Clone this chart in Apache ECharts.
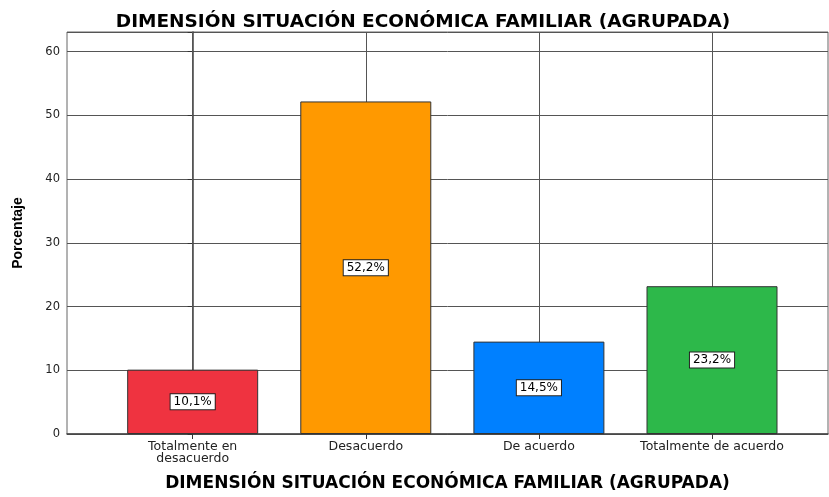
<!DOCTYPE html>
<html><head><meta charset="utf-8">
<script src="https://cdn.jsdelivr.net/npm/echarts@6/dist/echarts.min.js"></script>
<style>html,body{margin:0;padding:0;background:#fff}#c{width:829px;height:497px}</style>
</head><body><div id="c"></div>
<script>
const title = 'DIMENSIÓN SITUACIÓN ECONÓMICA FAMILIAR (AGRUPADA)';
const xTitle = 'DIMENSIÓN SITUACIÓN ECONÓMICA FAMILIAR (AGRUPADA)';
const yTitle = 'Porcentaje';
const categories = ['Totalmente en\ndesacuerdo', 'Desacuerdo', 'De acuerdo', 'Totalmente de acuerdo'];
const values = [10.1, 52.2, 14.5, 23.2];
const labels = ['10,1%', '52,2%', '14,5%', '23,2%'];
const colors = ['#EF3340', '#FF9900', '#0080FF', '#2DB84A'];
const yTicks = [0, 10, 20, 30, 40, 50, 60];
const idx = categories.map((c, i) => i);

const chart = echarts.init(document.getElementById('c'));
chart.setOption({
  animation: false,
  backgroundColor: '#fff',
  title: {
    text: title, left: 418, top: 8, textAlign: 'center',
    textStyle: {fontFamily: 'DejaVu Sans', fontWeight: 'bold', fontSize: 18.5, color: '#000'}
  },
  grid: {left: 67, top: 32, right: 1, bottom: 58, show: true, borderColor: '#666', borderWidth: 1},
  xAxis: {
    type: 'value', min: -0.726, max: 3.67,
    name: xTitle, nameLocation: 'middle', nameGap: 41,
    nameTextStyle: {fontFamily: 'DejaVu Sans', fontWeight: 'bold', fontSize: 17, color: '#000'},
    axisLine: {show: true, lineStyle: {color: '#444', width: 1.5}},
    axisTick: {show: true, customValues: idx, length: 5, lineStyle: {color: '#333'}},
    axisLabel: {customValues: idx, formatter: v => categories[Math.round(v)], fontFamily: 'DejaVu Sans', fontSize: 12.5, color: '#222', margin: 7, lineHeight: 12},
    splitLine: {show: false}
  },
  yAxis: {
    type: 'value', min: 0, max: 63.1, interval: 10,
    name: yTitle, nameLocation: 'middle', nameGap: 42,
    nameTextStyle: {fontFamily: 'Liberation Sans', fontWeight: 'bold', fontSize: 14, color: '#000'},
    axisLine: {show: true, lineStyle: {color: '#444', width: 1.5}},
    axisTick: {show: true, length: 5, lineStyle: {color: '#333'}},
    axisLabel: {formatter: v => yTicks.includes(v) ? String(v) : '', fontFamily: 'DejaVu Sans', fontSize: 11.5, color: '#222', margin: 7},
    splitLine: {show: true, lineStyle: {color: '#555', width: 1}}
  },
  series: [
    {
      type: 'scatter', data: [], z: 1, silent: true,
      markLine: {
        silent: true, symbol: 'none', label: {show: false}, animation: false, z: 1,
        lineStyle: {color: '#555', width: 1, type: 'solid'},
        data: idx.map(i => ({xAxis: i}))
      }
    },
    {
      type: 'bar', z: 3, barWidth: 131,
      data: values.map((v, i) => ({value: [i, v], itemStyle: {color: colors[i]}})),
      itemStyle: {borderColor: '#333', borderWidth: 1},
      label: {
        show: true, position: 'inside', formatter: p => labels[p.dataIndex],
        backgroundColor: '#fff', borderColor: '#222', borderWidth: 1, padding: [2, 3, 1, 3],
        fontFamily: 'DejaVu Sans', fontSize: 12, color: '#000'
      }
    }
  ]
});
</script></body></html>
